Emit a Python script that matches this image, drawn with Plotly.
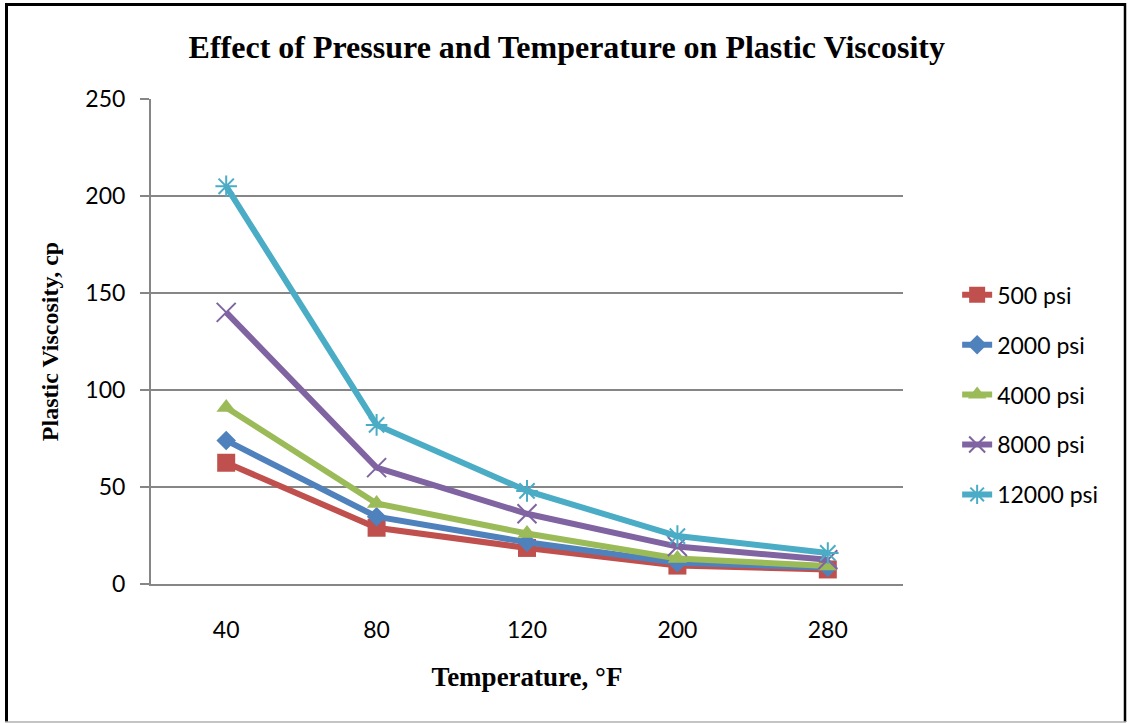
import plotly.graph_objects as go

# Temperature categories (°F)
temperatures = ["40", "80", "120", "200", "280"]

# Plastic viscosity (cp) at each pressure
pv_500 = [62.5, 29, 18.6, 9.5, 7.5]
pv_2000 = [74, 34.7, 21.5, 11, 8.5]
pv_4000 = [91, 41.5, 26, 13.2, 9.3]
pv_8000 = [140, 60, 36.2, 19.3, 12.5]
pv_12000 = [205, 82, 48, 24.7, 16]

y_ticks = [0, 50, 100, 150, 200, 250]

series = [
    ("500 psi", pv_500, "#C0504D", "square", 18, 0),
    ("2000 psi", pv_2000, "#4F81BD", "diamond", 15, 0),
    ("4000 psi", pv_4000, "#9BBB59", "triangle-up", 17, 0),
    ("8000 psi", pv_8000, "#8064A2", "x-thin-open", 19, 2),
    ("12000 psi", pv_12000, "#4BACC6", "asterisk-open", 18, 2),
]

fig = go.Figure()
for name, vals, color, symbol, size, mlw in series:
    fig.add_trace(go.Scatter(
        x=temperatures, y=vals, name=name, mode="lines+markers",
        legendgroup=name,
        line=dict(color=color, width=6),
        marker=dict(symbol=symbol, size=size, color=color,
                    line=dict(color=color, width=mlw)),
    ))

serif = "Liberation Serif, Times New Roman, serif"
sans = "Lato, Carlito, Calibri, sans-serif"

fig.update_layout(
    width=1129, height=723,
    paper_bgcolor="white", plot_bgcolor="white",
    margin=dict(l=151, r=226, t=99, b=139),
    title=dict(text="<b>Effect of Pressure and Temperature on Plastic Viscosity</b>",
               font=dict(family=serif, size=32, color="black"),
               x=0.502, xanchor="center", xref="container", y=0.935, yanchor="middle"),
    xaxis=dict(
        type="category", range=[-0.5, 4.5], showgrid=False,
        showline=True, linecolor="#868686", linewidth=2,
        ticks="", tickfont=dict(family=sans, size=23, color="black"),
        ticklabelstandoff=24,
        title=dict(text="<b>Temperature, °F</b>", font=dict(family=serif, size=27, color="black"),
                   standoff=26),
    ),
    yaxis=dict(
        range=[0, 250], tickvals=y_ticks, showgrid=True, gridcolor="#868686", gridwidth=1.5,
        showline=True, linecolor="#868686", linewidth=2, zeroline=False,
        ticks="outside", ticklen=9, tickcolor="#868686", tickwidth=1.5,
        ticklabelstandoff=10,
        tickfont=dict(family=sans, size=23, color="black"),
        title=dict(text="<b>Plastic Viscosity, cp</b>", font=dict(family=serif, size=24, color="black"),
                   standoff=20),
    ),
    legend=dict(
        x=1.072, xanchor="left", y=0.39, yanchor="middle",
        font=dict(family=sans, size=23, color="black"),
        tracegroupgap=17, bgcolor="rgba(0,0,0,0)",
    ),
)

# Outer chart frame, positioned in pixels relative to the plot area
plot_w = 1129 - 151 - 226
plot_h = 723 - 99 - 139
def px_x(p):
    return (p - 151) / plot_w
def px_y(p):
    return (723 - 139 - p) / plot_h

fig.add_shape(type="line", xref="paper", yref="paper", x0=px_x(6.5), x1=px_x(6.5), y0=px_y(4), y1=px_y(722),
              line=dict(color="black", width=3))
fig.add_shape(type="line", xref="paper", yref="paper", x0=px_x(5), x1=px_x(1126), y0=px_y(4.5), y1=px_y(4.5),
              line=dict(color="black", width=3))
fig.add_shape(type="line", xref="paper", yref="paper", x0=px_x(1125), x1=px_x(1125), y0=px_y(3), y1=px_y(722),
              line=dict(color="black", width=2.5))
fig.add_shape(type="line", xref="paper", yref="paper", x0=px_x(5), x1=px_x(1126), y0=px_y(722), y1=px_y(722),
              line=dict(color="#B0B0B0", width=1.5))

fig.write_html("out.html")
